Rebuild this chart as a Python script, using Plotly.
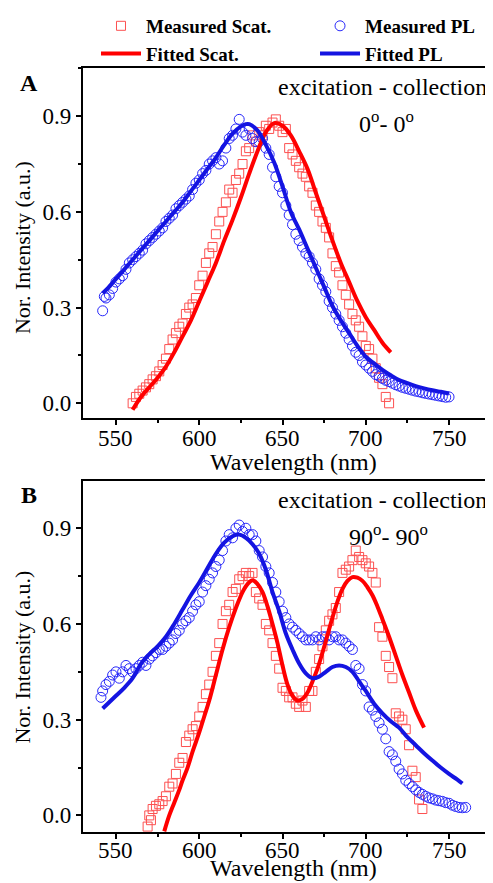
import plotly.graph_objects as go

# ---------------- Panel A (0°-0°) ----------------
a_scat_x = [560,562,564,566,568,570,572,574,576,578,580,582,584,586,588,590,592,594,596,598,
            600,602,604,606,608,610,612,614,616,618,620,622,624,626,628,630,632,634,636,638,
            640,642,644,646,648,650,652,654,656,658,660,662,664,666,668,670,672,674,676,678,
            680,682,684,686,688,690,692,694,696,698,700,702,704,706,708,710,712,714]
a_scat_y = [0.00,0.02,0.03,0.04,0.05,0.06,0.075,0.085,0.10,0.12,0.14,0.17,0.20,0.22,0.24,0.25,0.28,0.30,0.31,0.33,
            0.37,0.40,0.44,0.47,0.49,0.53,0.57,0.60,0.63,0.67,0.66,0.70,0.72,0.75,0.79,0.80,0.84,0.82,0.85,0.84,
            0.87,0.86,0.88,0.89,0.87,0.85,0.86,0.80,0.78,0.76,0.74,0.72,0.71,0.68,0.66,0.62,0.60,0.57,0.55,0.52,
            0.47,0.43,0.41,0.37,0.34,0.31,0.28,0.26,0.24,0.21,0.18,0.17,0.14,0.11,0.08,0.06,0.02,0.00]

a_pl_x = [542,543,544,546,548,550,552,554,556,558,560,562,564,566,568,570,572,574,576,578,
          580,582,584,586,588,590,592,594,596,598,600,602,604,606,608,610,612,614,616,618,
          620,622,624,626,628,630,632,634,636,638,640,642,644,646,648,650,652,654,656,658,
          660,662,664,666,668,670,672,674,676,678,680,682,684,686,688,690,692,694,696,698,
          700,702,704,706,708,710,712,714,716,718,720,722,724,726,728,730,732,734,736,738,
          740,742,744,746,748,750]
a_pl_y = [0.29,0.335,0.33,0.34,0.36,0.38,0.39,0.40,0.42,0.44,0.45,0.46,0.47,0.48,0.50,0.51,0.52,0.53,0.54,0.55,
          0.57,0.58,0.59,0.61,0.62,0.63,0.64,0.65,0.67,0.69,0.70,0.72,0.73,0.75,0.76,0.77,0.75,0.76,0.80,0.83,
          0.84,0.86,0.89,0.85,0.84,0.86,0.83,0.82,0.82,0.83,0.80,0.78,0.74,0.71,0.68,0.66,0.62,0.59,0.56,0.53,
          0.51,0.49,0.47,0.46,0.44,0.42,0.39,0.37,0.35,0.32,0.30,0.28,0.26,0.24,0.22,0.20,0.18,0.16,0.15,0.13,
          0.12,0.11,0.10,0.09,0.085,0.078,0.072,0.068,0.063,0.058,0.054,0.05,0.047,0.044,0.041,0.038,0.036,0.033,0.031,0.029,
          0.027,0.025,0.023,0.021,0.019,0.02]

a_scat_fit_x = [560,565,570,575,580,585,590,595,600,605,610,615,620,625,630,635,640,645,
                650,655,660,665,670,675,680,685,690,695,700,705,710,715]
a_scat_fit_y = [-0.02,0.02,0.05,0.08,0.115,0.16,0.21,0.26,0.32,0.38,0.44,0.51,0.575,0.645,0.72,0.79,0.85,0.878,
                0.87,0.84,0.79,0.735,0.66,0.585,0.51,0.44,0.38,0.32,0.27,0.23,0.19,0.16]

a_pl_fit_x = [542,545,550,555,560,565,570,575,580,585,590,595,600,605,610,615,620,625,628,
              630,635,640,645,650,655,660,665,670,675,680,685,690,695,700,705,710,715,720,
              725,730,735,740,745,750]
a_pl_fit_y = [0.345,0.36,0.39,0.42,0.45,0.48,0.51,0.54,0.57,0.60,0.63,0.665,0.70,0.735,0.77,0.81,0.845,0.868,0.875,
              0.875,0.855,0.81,0.755,0.68,0.60,0.545,0.485,0.425,0.365,0.305,0.26,0.22,0.18,0.146,0.125,0.105,0.088,0.073,
              0.063,0.054,0.047,0.041,0.036,0.031]

# ---------------- Panel B (90°-90°) ----------------
b_scat_x = [569,570,571,572,574,576,578,580,582,584,586,588,590,592,594,596,598,600,602,604,
            606,608,610,612,614,616,618,620,622,624,626,628,630,632,634,636,638,640,642,644,
            646,648,650,652,654,656,658,660,662,664,666,668,670,672,674,676,678,680,682,684,
            686,688,690,692,694,696,698,700,702,704,706,708,710,712,714,716,718,720,722,724,
            726,728,730,732,734]
b_scat_y = [-0.035,0.0,-0.015,0.02,0.03,0.035,0.045,0.06,0.09,0.10,0.13,0.165,0.18,0.23,0.25,0.27,0.28,0.31,0.34,0.38,
            0.41,0.45,0.50,0.54,0.60,0.64,0.66,0.70,0.71,0.74,0.75,0.76,0.75,0.76,0.70,0.68,0.66,0.60,0.58,0.54,
            0.50,0.46,0.40,0.39,0.37,0.37,0.35,0.34,0.36,0.34,0.39,0.39,0.45,0.49,0.53,0.58,0.61,0.63,0.65,0.70,
            0.76,0.77,0.78,0.80,0.83,0.81,0.80,0.79,0.78,0.76,0.73,0.59,0.56,0.50,0.465,0.43,0.32,0.31,0.30,0.27,
            0.22,0.14,0.12,0.05,0.02]

b_pl_x = [541,542,544,546,548,550,552,554,556,558,560,562,564,566,568,570,572,574,576,578,
          580,582,584,586,588,590,592,594,596,598,600,602,604,606,608,610,612,614,616,618,
          620,622,624,626,628,630,632,634,636,638,640,642,644,646,648,650,652,654,656,658,
          660,662,664,666,668,670,672,674,676,678,680,682,684,686,688,690,692,694,696,698,
          700,702,704,706,708,710,712,714,716,718,720,722,724,726,728,730,732,734,736,738,
          740,742,744,746,748,750,752,754,756,758,760]
b_pl_y = [0.37,0.39,0.41,0.42,0.44,0.45,0.43,0.45,0.47,0.46,0.45,0.46,0.47,0.48,0.47,0.49,0.50,0.51,0.52,0.52,
          0.53,0.54,0.55,0.57,0.58,0.60,0.61,0.62,0.64,0.66,0.67,0.70,0.72,0.74,0.76,0.78,0.80,0.83,0.86,0.88,
          0.87,0.90,0.91,0.89,0.90,0.88,0.88,0.86,0.83,0.81,0.78,0.76,0.73,0.70,0.67,0.64,0.62,0.60,0.59,0.58,
          0.57,0.56,0.55,0.55,0.55,0.56,0.55,0.56,0.56,0.55,0.56,0.56,0.55,0.55,0.54,0.53,0.52,0.47,0.46,0.41,
          0.39,0.34,0.33,0.31,0.29,0.27,0.24,0.20,0.19,0.17,0.145,0.13,0.11,0.10,0.09,0.08,0.072,0.066,0.06,0.055,
          0.052,0.048,0.046,0.044,0.04,0.038,0.032,0.028,0.025,0.024,0.025]

b_scat_fit_x = [579,582,585,588,590,593,596,600,603,606,610,614,618,622,626,629,632,635,638,641,
                644,647,650,653,656,659,662,665,668,671,674,677,680,683,686,689,692,695,698,701,
                704,707,710,714,718,722,726,730,735]
b_scat_fit_y = [-0.05,0.0,0.04,0.08,0.11,0.15,0.20,0.26,0.31,0.36,0.44,0.52,0.59,0.65,0.70,0.725,0.737,0.725,0.70,0.655,
                0.60,0.54,0.47,0.41,0.375,0.36,0.365,0.385,0.42,0.46,0.51,0.565,0.62,0.67,0.71,0.735,0.747,0.745,0.735,0.715,
                0.69,0.655,0.615,0.56,0.50,0.44,0.385,0.33,0.275]

b_pl_fit_x = [542,545,550,555,560,565,570,575,580,585,590,595,600,605,610,615,620,624,628,632,
              636,640,644,648,652,656,660,664,668,672,676,680,684,688,692,696,700,705,710,715,
              720,725,730,735,740,745,750,755,758]
b_pl_fit_y = [0.335,0.35,0.375,0.40,0.43,0.475,0.505,0.53,0.56,0.60,0.645,0.69,0.73,0.775,0.82,0.855,0.875,0.88,0.87,0.85,
              0.82,0.77,0.70,0.64,0.57,0.52,0.476,0.445,0.43,0.435,0.45,0.465,0.47,0.465,0.45,0.42,0.39,0.35,0.32,0.295,
              0.275,0.245,0.22,0.195,0.172,0.15,0.13,0.112,0.10]

# x tick labels (wavelength axis)
x_tick_vals = [550, 600, 650, 700, 750]
x_tick_text = ["550", "600", "650", "700", "750"]

# ---------------- Styling ----------------
SERIF = "Times New Roman, Liberation Serif, Times, serif"
RED_M = "rgb(252,80,80)"
BLUE_M = "rgb(40,40,250)"
RED_L = "rgb(255,0,0)"
BLUE_L = "rgb(20,20,225)"

fig = go.Figure()

def add_panel(xa, ya, sx, sy, px, py, sfx, sfy, pfx, pfy, show):
    fig.add_trace(go.Scatter(x=sx, y=sy, mode="markers", name="Measured Scat.",
                             marker=dict(symbol="square-open", size=9, color=RED_M, line=dict(width=1)),
                             xaxis=xa, yaxis=ya, showlegend=show, legend="legend"))
    fig.add_trace(go.Scatter(x=px, y=py, mode="markers", name="Measured PL",
                             marker=dict(symbol="circle-open", size=10, color=BLUE_M, line=dict(width=1)),
                             xaxis=xa, yaxis=ya, showlegend=show, legend="legend2"))
    fig.add_trace(go.Scatter(x=sfx, y=sfy, mode="lines", name="Fitted Scat.",
                             line=dict(color=RED_L, width=4, shape="spline"),
                             xaxis=xa, yaxis=ya, showlegend=show, legend="legend"))
    fig.add_trace(go.Scatter(x=pfx, y=pfy, mode="lines", name="Fitted PL",
                             line=dict(color=BLUE_L, width=4, shape="spline"),
                             xaxis=xa, yaxis=ya, showlegend=show, legend="legend2"))

add_panel("x", "y", a_scat_x, a_scat_y, a_pl_x, a_pl_y, a_scat_fit_x, a_scat_fit_y, a_pl_fit_x, a_pl_fit_y, True)
add_panel("x2", "y2", b_scat_x, b_scat_y, b_pl_x, b_pl_y, b_scat_fit_x, b_scat_fit_y, b_pl_fit_x, b_pl_fit_y, False)

tickfont = dict(family=SERIF, size=23, color="black")

def xaxis_cfg(anchor):
    return dict(anchor=anchor, domain=[0, 1], range=[530.2, 776.4], automargin=False,
                tickmode="array", tickvals=x_tick_vals, showticklabels=False,
                ticks="outside", ticklen=5, tickwidth=2, tickcolor="black",
                minor=dict(tick0=525, dtick=25, ticks="outside", ticklen=3, tickwidth=1.5, tickcolor="black"),
                showline=True, linewidth=2.2, linecolor="black", mirror=True,
                showgrid=False, zeroline=False)

def yaxis_cfg(anchor, dom, rng):
    return dict(anchor=anchor, domain=dom, range=rng, automargin=False,
                tickmode="linear", tick0=0, dtick=0.3, tickformat=".1f",
                ticks="outside", ticklen=5, tickwidth=2, tickcolor="black",
                minor=dict(tick0=0, dtick=0.15, ticks="outside", ticklen=3, tickwidth=1.5, tickcolor="black"),
                showline=True, linewidth=2.2, linecolor="black", mirror=False,
                showgrid=False, zeroline=False, tickfont=tickfont)

def ann(text, x, y, size=24, angle=0, xref="paper"):
    return dict(text=text, x=x, y=y, xref=xref, yref="paper", showarrow=False,
                xanchor="center", yanchor="middle", textangle=angle,
                font=dict(family=SERIF, size=size, color="black"))

annotations = [
    ann("<b>A</b>", -0.1317, 0.980),
    ann("excitation - collection", 0.7317, 0.975),
    ann("0<sup>o</sup>- 0<sup>o</sup>", 0.741, 0.929),
    ann("Wavelength (nm)", 0.5146, 0.484),
    ann("Nor. Intensity (a.u.)", -0.1476, 0.765, size=22, angle=-90),
    ann("<b>B</b>", -0.1317, 0.441),
    ann("excitation - collection", 0.7317, 0.4346),
    ann("90<sup>o</sup>- 90<sup>o</sup>", 0.744, 0.3887),
    ann("Wavelength (nm)", 0.5146, -0.0475),
    ann("Nor. Intensity (a.u.)", -0.1476, 0.229, size=22, angle=-90),
]
for v, t in zip(x_tick_vals, x_tick_text):
    annotations.append(ann(t, v, 0.5157, size=23, xref="x"))
    annotations.append(ann(t, v, -0.0236, size=23, xref="x2"))

W, H = 485, 875
legend_font = dict(family=SERIF, size=19, color="black", weight="bold")
fig.update_layout(
    template="none",
    width=W, height=H,
    font=dict(family=SERIF, color="black"),
    margin=dict(l=75, r=0, t=60, b=51, autoexpand=False),
    plot_bgcolor="white", paper_bgcolor="white",
    xaxis=xaxis_cfg("y"),
    yaxis=yaxis_cfg("x", [0.5419, 1.0], [-0.046, 1.051]),
    xaxis2=xaxis_cfg("y2"),
    yaxis2=yaxis_cfg("x2", [0.0, 0.4594], [-0.052, 1.048]),
    legend=dict(xref="paper", yref="paper", x=0.0317, y=1.0799,
                xanchor="left", yanchor="top", bgcolor="rgba(0,0,0,0)",
                font=legend_font, itemwidth=40, tracegroupgap=0),
    legend2=dict(xref="paper", yref="paper", x=0.5659, y=1.0799,
                 xanchor="left", yanchor="top", bgcolor="rgba(0,0,0,0)",
                 font=legend_font, itemwidth=40, tracegroupgap=0),
    annotations=annotations,
)

fig.write_html("out.html")
